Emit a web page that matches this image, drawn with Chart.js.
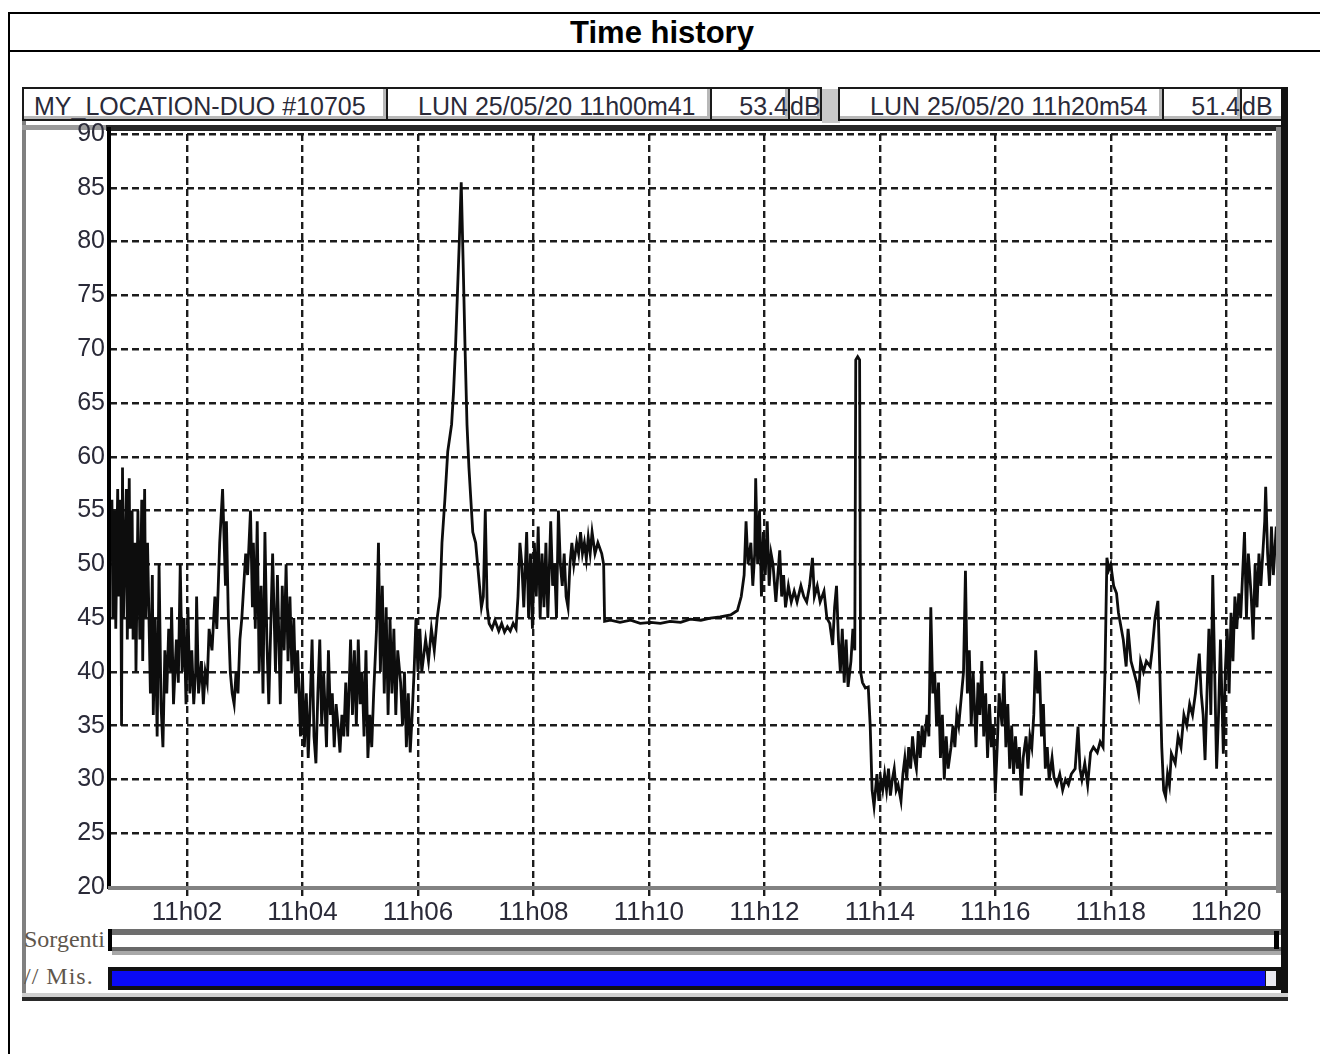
<!DOCTYPE html>
<html>
<head>
<meta charset="utf-8">
<script src="https://cdn.jsdelivr.net/npm/chart.js@4.4.1/dist/chart.umd.min.js"></script>
<style>
  html, body { margin: 0; padding: 0; background: #fff; }
  body { width: 1320px; height: 1054px; position: relative; overflow: hidden; font-family: "Liberation Sans", Arial, sans-serif; }
  .abs { position: absolute; }
  .title { left: 8px; top: 12px; width: 1320px; height: 36px; border-top: 2px solid #000; border-bottom: 2px solid #000; border-left: 2px solid #000;
           font-weight: bold; font-size: 31px; text-align: center; line-height: 38px; color: #000; }
  .title span { position: relative; left: -8px; }
  .leftrule { left: 8px; top: 50px; width: 2px; height: 1010px; background: #000; }
  .hbox { top: 87px; height: 34px; border: 2px solid #1a1a1a; background: #fff; overflow: hidden; white-space: nowrap;
          font-size: 25px; line-height: 34px; color: #2a2a38; box-shadow: inset -3px -3px 0 #b8b8b8; }
  .lbl { font-family: "Liberation Serif", "Times New Roman", serif; font-size: 24px; color: #5e564c; overflow: hidden; white-space: nowrap; }
  #wrap { left: 22px; top: 114px; width: 1266px; height: 812px; }
</style>
</head>
<body>
<div class="abs title"><span>Time history</span></div>
<div class="abs leftrule"></div>

<!-- inner frame -->
<div class="abs" style="left:22px;top:87px;width:4px;height:913px;background:#808080"></div>

<div class="abs hbox" style="left:22px;width:366px;padding-left:10px;box-sizing:border-box;">MY_LOCATION-DUO #10705</div>
<div class="abs hbox" style="left:386px;width:326px;padding-left:30px;box-sizing:border-box;">LUN 25/05/20 11h00m41</div>
<div class="abs hbox" style="left:710px;width:80px;text-align:right;box-sizing:border-box;">53.4</div>
<div class="abs hbox" style="left:788px;width:34px;box-sizing:border-box;">dB</div>
<div class="abs" style="left:822px;top:89px;width:18px;height:34px;background:#c8c8c8"></div>
<div class="abs hbox" style="left:838px;width:326px;padding-left:30px;box-sizing:border-box;">LUN 25/05/20 11h20m54</div>
<div class="abs hbox" style="left:1162px;width:80px;text-align:right;box-sizing:border-box;">51.4</div>
<div class="abs hbox" style="left:1240px;width:48px;box-sizing:border-box;">dB</div>

<!-- top band under header -->
<div class="abs" style="left:22px;top:125px;width:88px;height:5px;background:#9a9a9a"></div>
<div class="abs" style="left:106px;top:125px;width:1182px;height:6px;background:#262626"></div>

<div class="abs" id="wrap"><canvas id="chart"></canvas></div>

<!-- plot frame overlays -->
<div class="abs" style="left:107px;top:127px;width:4px;height:762px;background:#000"></div>
<div class="abs" style="left:108px;top:886px;width:1173px;height:4px;background:#828282"></div>
<div class="abs" style="left:1276px;top:127px;width:5px;height:766px;background:#8a8a8a"></div>
<div class="abs" style="left:1281px;top:87px;width:7px;height:913px;background:#111"></div>

<!-- source / measurement bars -->
<div class="abs lbl" style="left:24px;top:926px;width:84px;">Sorgenti</div>
<div class="abs" style="left:108px;top:929px;width:4px;height:22px;background:#000"></div>
<div class="abs" style="left:112px;top:929px;width:1169px;height:6px;background:#6e6e6e"></div>
<div class="abs" style="left:112px;top:947px;width:1169px;height:4px;background:#686868"></div>
<div class="abs" style="left:112px;top:951px;width:1169px;height:4px;background:#a8a8a8"></div>
<div class="abs" style="left:1274px;top:931px;width:5px;height:18px;background:#000"></div>

<div class="abs lbl" style="left:24px;top:963px;width:84px;letter-spacing:1px;">// Mis.</div>
<div class="abs" style="left:108px;top:967px;width:1173px;height:23px;background:#111"></div>
<div class="abs" style="left:112px;top:971px;width:1153px;height:15px;background:#0a0af5"></div>
<div class="abs" style="left:1266px;top:971px;width:10px;height:15px;background:#e8e8f0"></div>
<div class="abs" style="left:22px;top:993px;width:1266px;height:4px;background:#d0d0d0"></div>
<div class="abs" style="left:22px;top:997px;width:1266px;height:4px;background:#2a2a2a"></div>

<script>
// time in seconds after 11h00m00, level in dB
const times = [
  41,42,43,45,46,48,49,51,52,53,
  54,57,58,60,61,63,64,66,67,69,
  71,73,74,76,77,79,82,84,85,87,
  89,90,91,93,95,97,99,101,103,104,
  106,109,111,113,115,117,119,121,123,125,
  127,129,130,132,135,137,139,141,143,146,
  149,151,154,157,160,161,163,165,167,169,
  171,173,175,177,179,181,183,186,188,189,
  191,193,195,197,199,201,203,205,207,209,
  212,214,215,217,219,221,223,225,227,229,
  231,233,235,238,240,242,244,246,248,250,
  252,254,256,258,260,262,265,267,269,271,
  273,275,277,279,281,283,285,287,290,292,
  294,296,298,300,302,304,306,308,310,312,
  314,317,319,321,323,325,327,329,331,333,
  335,337,339,342,344,346,348,350,352,354,
  356,358,360,362,364,368,371,374,377,380,
  383,385,388,391,395,397,399,401,403,405,
  407,409,411,413,415,417,420,422,424,426,
  428,430,432,434,437,440,444,447,450,453,
  456,459,462,464,466,468,470,473,475,477,
  479,481,483,485,487,489,491,493,495,498,
  500,502,504,506,508,510,512,514,516,518,
  520,522,525,527,529,531,533,535,537,539,
  541,544,547,551,553,554,560,570,581,591,
  602,612,622,633,643,654,664,674,685,692,
  696,699,701,703,706,708,710,711,713,715,
  717,719,721,723,725,727,729,732,734,736,
  738,740,742,745,748,751,754,758,761,764,
  767,770,772,775,778,782,785,788,791,793,
  795,797,799,801,803,805,807,810,812,814,
  815,817,819,820,822,825,828,830,832,834,
  837,839,841,843,845,847,849,851,853,855,
  857,859,862,864,866,868,870,872,874,876,
  878,880,882,884,886,889,891,893,895,897,
  899,901,903,905,907,909,911,914,916,918,
  920,922,925,927,929,931,933,935,937,940,
  942,944,946,948,950,952,954,956,958,960,
  962,964,967,969,971,973,975,977,979,981,
  983,985,987,989,992,994,996,998,1000,1002,
  1004,1006,1008,1010,1012,1014,1016,1019,1021,1024,
  1027,1030,1033,1036,1039,1043,1046,1048,1050,1053,
  1056,1059,1062,1066,1069,1072,1074,1076,1078,1080,
  1083,1086,1088,1090,1093,1096,1098,1101,1104,1107,
  1109,1111,1114,1117,1121,1123,1126,1129,1131,1133,
  1135,1137,1139,1141,1143,1147,1150,1153,1156,1159,
  1162,1165,1168,1172,1174,1176,1178,1180,1182,1184,
  1186,1188,1190,1192,1194,1197,1199,1201,1203,1205,
  1207,1209,1211,1213,1215,1217,1219,1221,1223,1226,
  1228,1230,1232,1234,1236,1238,1240,1241,1243,1245,
  1247,1249,1252,1254
];
const levels = [
  53.4,56,45,55,44,57,47,56,35,59,
  45,57,43,58,44,55,43,52,40,55,
  43,56,41,57,45,52,38,49,36,45,
  34,42,50,37,33,42,38,44,40,46,
  37,43,39,50,40,45,37,46,38,42,
  37,40,47,38,41,37,40,39,44,42,
  47,44,52,57,48,54,45,40,38,37,
  40,38,43,45,48,51,49,55,46,52,
  44,54,40,48,38,53,43,37,44,51,
  40,49,45,37,48,42,50,41,47,40,
  45,38,42,34,40,33,38,32,37,43,
  34,31.5,38,43,35,40,33,42,36,38,
  33,37,35,32.5,36,34,39,34,43,36,
  42,35,43,37,40,34,42,32,36,33,
  38,44,52,40,48,38,46,36,45,38,
  44,36,42,39,35,40,33,38,32.5,36,
  40,45,40,44,40,43,41,44,42,45,
  47,52,56,60.5,63,66,70,75,80,85.5,
  78,70,63,59,56,53,52,50,48,46,
  47,55,46,44.5,44,44.8,43.8,44.5,43.7,44.2,
  43.8,44.5,44,47,52,50,46,53,45,51,
  44,52,47,53.5,45,51,46,52,45,54,
  48,50,45,55,50,48,51,47,46,50,
  52,50,52,51,53,51,52,50.5,52.5,51,
  53,51,52,51,50,44.7,44.8,44.6,44.8,44.5,
  44.6,44.5,44.7,44.6,44.9,44.8,45,45.1,45.3,45.7,
  47,49,54,50,52,48,51,58,50,55,
  47,53,49,54,48,51,50,46.5,49,51.3,
  47,49,46,48,46.5,47.5,46.5,48,47,46.5,
  48,50.6,47,48,46.5,47.5,45,44.5,42.5,46,
  48,43,40,44,39,43,38.6,41,44,42,
  69,69.3,69,40,39,38.5,38.6,35,29,27.5,
  30.5,28,30,29,30.5,29,31,28.5,30,31,
  29,29.5,28,30.5,32,30,33,31,34,32,
  31,34.5,32,35,33,36,34,46,38,40,
  35,39,32,36,30,34,31,33,35,33,
  36,35,38,40,49.4,38,42,35,40,33,
  39,36,41,34,38,32,37,33,35,28.7,
  33,38,35,40,33,37,31,35,30.5,34,
  31,33,28.5,32,34,31,34,33,36,42,
  38,40,34,37,31,33,30,32,30.2,29.5,
  30.5,29,30,29.5,30.5,31,34.9,31,30,31.5,
  29.5,32.5,33,32.5,33.5,33,40,50.6,49.5,50,
  48,47.3,45.5,44.5,43,40.5,44,41,40,39,
  38,41,40,41,40.5,42,45,46.6,40,33,
  29,28.4,30.5,29.5,32.4,31.5,34,33,36,35,
  37,36,38,41.7,38,36,31.8,38,44,36,
  49,40,31,36,43,32.4,40,44,38,45.5,
  41,47,44,47.3,45,49,53,45,51,47,
  43,50,46,51,48,51,54,57.2,51,48,
  53.5,49,53.5,51.4
];
const tickSeconds = [120, 240, 360, 480, 600, 720, 840, 960, 1080, 1200];
const tickLabels = ['11h02', '11h04', '11h06', '11h08', '11h10', '11h12', '11h14', '11h16', '11h18', '11h20'];

const points = times.map((t, i) => ({ x: t, y: levels[i] }));

new Chart(document.getElementById('chart'), {
  type: 'line',
  data: {
    datasets: [{
      data: points,
      borderColor: '#0d0d0d',
      borderWidth: 2.8,
      pointRadius: 0,
      tension: 0,
      fill: false,
    }],
  },
  options: {
    responsive: true,
    maintainAspectRatio: false,
    animation: false,
    layout: { padding: { top: 5, right: 5, left: 0, bottom: 0 }, autoPadding: false },
    plugins: { legend: { display: false }, tooltip: { enabled: false } },
    scales: {
      x: {
        type: 'linear',
        min: 40,
        max: 1259,
        afterBuildTicks: (s) => { s.ticks = tickSeconds.map((v) => ({ value: v })); },
        afterFit: (s) => { s.height = 39; },
        ticks: {
          autoSkip: false,
          maxRotation: 0,
          padding: 1,
          color: '#2a2a38',
          font: { family: '"Liberation Sans", Arial, sans-serif', size: 26 },
          callback: (v) => tickLabels[tickSeconds.indexOf(v)] ?? '',
        },
        grid: { color: '#1c1c1c', lineWidth: 2.4, tickLength: 9 },
        border: { display: false, dash: [7, 4] },
      },
      y: {
        min: 20,
        max: 90,
        afterFit: (s) => { s.width = 88; },
        ticks: {
          stepSize: 5,
          padding: 5,
          color: '#2a2a38',
          font: { family: '"Liberation Sans", Arial, sans-serif', size: 25 },
        },
        grid: { color: '#1c1c1c', lineWidth: 2.4, drawTicks: false },
        border: { display: false, dash: [7, 4] },
      },
    },
  },
});
</script>
</body>
</html>
